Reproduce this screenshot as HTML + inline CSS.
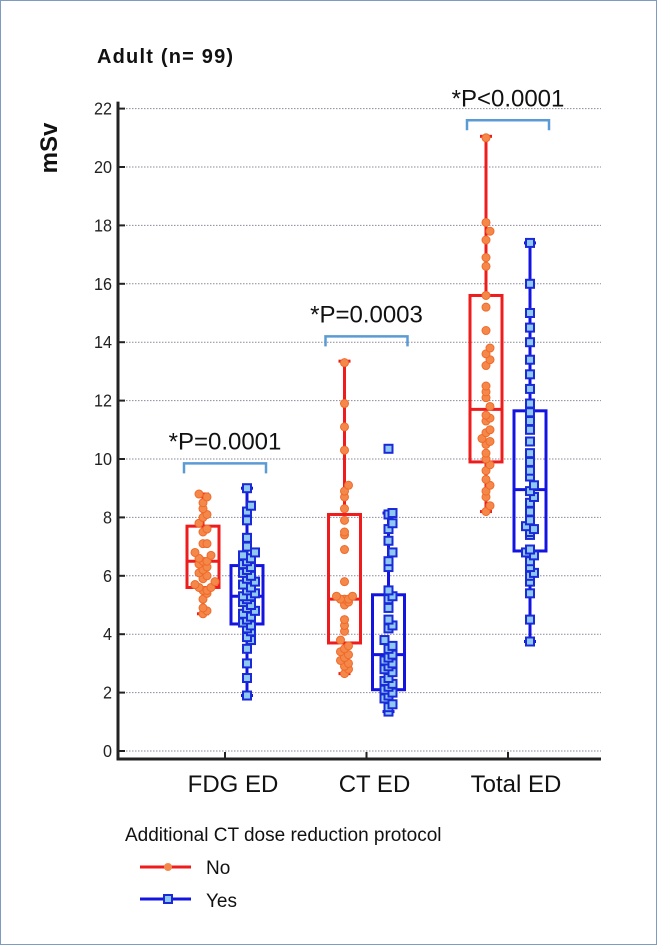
<!DOCTYPE html>
<html><head><meta charset="utf-8"><style>
html,body{margin:0;padding:0;background:#fff}
#wrap{position:relative;width:657px;height:945px;box-sizing:border-box;border:1px solid #7f9bbd;background:#fff}
svg{position:absolute;left:0;top:0}
text{font-family:"Liberation Sans",sans-serif}
</style></head><body>
<div id="wrap">
<svg id="chart" width="657" height="945"></svg>
</div>
<script>
const categories = ["FDG ED","CT ED","Total ED"];
const yTicks = [0,2,4,6,8,10,12,14,16,18,20,22];
// box stats [min, q1, median, q3, max]
const noStats = [[4.7,5.6,6.5,7.7,8.8],[2.65,3.7,5.2,8.1,13.35],[8.2,9.9,11.7,15.6,21.05]];
const yesStats = [[1.9,4.35,5.3,6.35,9.0],[1.35,2.1,3.3,5.35,8.15],[3.75,6.85,8.95,11.65,17.4]];
const yesOutliers = [[],[10.35],[]];
const noPoints = [
 [4.7,4.8,4.9,5.2,5.4,5.5,5.5,5.6,5.6,5.7,5.8,5.9,6.0,6.1,6.2,6.3,6.4,6.5,6.5,6.6,6.7,6.8,7.1,7.1,7.5,7.6,7.8,8.0,8.1,8.3,8.5,8.7,8.8],
 [2.65,2.8,2.9,3.0,3.1,3.2,3.3,3.4,3.5,3.6,3.8,4.1,4.3,4.5,5.0,5.1,5.2,5.2,5.2,5.3,5.3,5.8,6.9,7.4,7.5,7.9,8.3,8.7,8.9,9.1,10.3,11.1,11.9,13.3],
 [8.2,8.4,8.7,8.9,9.1,9.3,9.6,9.8,10.0,10.2,10.5,10.6,10.7,10.9,11.0,11.3,11.4,11.5,11.8,12.1,12.3,12.5,13.2,13.4,13.6,13.8,14.4,15.2,15.6,16.6,16.9,17.5,17.8,18.1,21.0]
];
const yesPoints = [
 [1.9,2.5,3.0,3.5,3.8,3.9,4.1,4.2,4.3,4.4,4.5,4.6,4.7,4.8,4.9,5.0,5.1,5.2,5.3,5.3,5.4,5.5,5.6,5.7,5.8,5.9,6.0,6.1,6.2,6.3,6.4,6.5,6.6,6.7,6.8,7.0,7.3,7.9,8.2,8.4,9.0],
 [1.35,1.5,1.6,1.8,1.9,2.0,2.1,2.2,2.3,2.4,2.5,2.7,2.8,2.9,3.0,3.1,3.2,3.3,3.5,3.6,3.8,4.2,4.3,4.5,4.9,5.2,5.3,5.5,6.3,6.5,6.8,7.2,7.6,7.8,8.1,8.15],
 [3.75,4.5,5.4,5.8,6.0,6.1,6.3,6.5,6.7,6.8,6.9,7.4,7.5,7.6,7.7,7.9,8.2,8.5,8.7,8.9,9.1,9.4,9.6,9.9,10.2,10.6,11.0,11.3,11.6,11.9,12.4,12.9,13.4,14.0,14.5,15.0,16.0,17.4]
];
const pLabels = ["*P=0.0001","*P=0.0003","*P<0.0001"];
const pLevels = [9.85,14.2,21.6];

const NS="http://www.w3.org/2000/svg";
const svg=document.getElementById('chart');
function el(tag,attrs,parent){const e=document.createElementNS(NS,tag);for(const k in attrs)e.setAttribute(k,attrs[k]);(parent||svg).appendChild(e);return e;}
const X0=117,XR=600,YB=750,PPU=29.2;
const y=v=>YB-v*PPU;
const xc=i=>224+i*141.5;
const OFF=22,BW=32;

yTicks.forEach(t=>{
 const g=el('line',{x1:X0+5,x2:XR,y1:y(t),y2:y(t),stroke:'#8a8a9a','stroke-width':1,'stroke-dasharray':'1.5,1.5'});
 
 
 const tk=el('line',{x1:X0,x2:X0+7,y1:y(t),y2:y(t),stroke:'#222','stroke-width':2});
 
 
 const lb=el('text',{x:X0-6,y:y(t)+6,'text-anchor':'end','font-size':18,fill:'#222',transform:`translate(${(X0-6)*0.1},0) scale(0.9,1)`});
 lb.textContent=t;
 
 
});
const ax=el('path',{d:`M${X0},${y(22)-7} L${X0},758 L${XR},758`,fill:'none',stroke:'#222','stroke-width':3});


categories.forEach((c,i)=>{
 const t=el('line',{x1:xc(i),x2:xc(i),y1:751,y2:758,stroke:'#222','stroke-width':2});
 
 
 const l=el('text',{x:xc(i)+8,y:791,'text-anchor':'middle','font-size':24,fill:'#111'});
 l.textContent=c;
 
 
});
const ti=el('text',{x:96,y:62,'font-size':20,'font-weight':'bold',fill:'#111','letter-spacing':'1.2'});
ti.textContent='Adult (n= 99)';


const yt=el('text',{x:0,y:0,'font-size':24,'font-weight':'bold',fill:'#111',transform:'translate(56,147) rotate(-90)','text-anchor':'middle'});
yt.textContent='mSv';



function drawBox(cx,s,col,name){
 const g=el('g',{});
 
 
 el('line',{x1:cx,x2:cx,y1:y(s[0]),y2:y(s[1]),stroke:col,'stroke-width':3},g);
 el('line',{x1:cx,x2:cx,y1:y(s[3]),y2:y(s[4]),stroke:col,'stroke-width':3},g);
 el('line',{x1:cx-6,x2:cx+6,y1:y(s[0]),y2:y(s[0]),stroke:col,'stroke-width':3},g);
 el('line',{x1:cx-6,x2:cx+6,y1:y(s[4]),y2:y(s[4]),stroke:col,'stroke-width':3},g);
 el('rect',{x:cx-BW/2,y:y(s[3]),width:BW,height:y(s[1])-y(s[3]),fill:'none',stroke:col,'stroke-width':3},g);
 el('line',{x1:cx-BW/2,x2:cx+BW/2,y1:y(s[2]),y2:y(s[2]),stroke:col,'stroke-width':3},g);
}
function jitter(arr){const seen={};return arr.map(v=>{const key=Math.round(v*3);seen[key]=(seen[key]||0)+1;const n=seen[key]-1;return n===0?0:(n%2?1:-1)*Math.ceil(n/2)*4;});}
categories.forEach((c,i)=>{
 const cn=xc(i)-OFF, cy=xc(i)+OFF;
 drawBox(cn,noStats[i],'#ee1c1c','box-no-'+i);
 drawBox(cy,yesStats[i],'#1414e0','box-yes-'+i);
 const jn=jitter(noPoints[i]);
 noPoints[i].forEach((v,j)=>{
  const p=el('circle',{cx:cn+jn[j],cy:y(v),r:4,fill:'#f4884a',stroke:'#f06a2a','stroke-width':1});
  
  
 });
 const jy=jitter(yesPoints[i]);
 yesPoints[i].forEach((v,j)=>{
  const p=el('rect',{x:cy+jy[j]-4,y:y(v)-4,width:8,height:8,fill:'#8fc8f0',stroke:'#1a2ad8','stroke-width':2});
  
  
 });
 yesOutliers[i].forEach(v=>{
  const p=el('rect',{x:cy-4,y:y(v)-4,width:8,height:8,fill:'#8fc8f0',stroke:'#1a2ad8','stroke-width':2});
  
  
 });
 const by=y(pLevels[i]);
 const br=el('path',{d:`M${cn-19},${by+10} L${cn-19},${by} L${cy+19},${by} L${cy+19},${by+10}`,fill:'none',stroke:'#5b9bd5','stroke-width':2.5});
 
 
 const pt=el('text',{x:(cn+cy)/2,y:by-14,'text-anchor':'middle','font-size':24,fill:'#111'});
 pt.textContent=pLabels[i];
 
 
});
const lt=el('text',{x:124,y:840,'font-size':19,fill:'#111'});
lt.textContent='Additional CT dose reduction protocol';


const l1=el('g',{});


el('line',{x1:139,x2:190,y1:866,y2:866,stroke:'#ee1c1c','stroke-width':3},l1);
el('circle',{cx:167,cy:866,r:4,fill:'#f4884a'},l1);
const t1=el('text',{x:205,y:873,'font-size':19,fill:'#111'},l1);t1.textContent='No';
const l2=el('g',{});


el('line',{x1:139,x2:190,y1:898,y2:898,stroke:'#1414e0','stroke-width':3},l2);
el('rect',{x:163,y:894,width:8,height:8,fill:'#8fc8f0',stroke:'#1a2ad8','stroke-width':2},l2);
const t2=el('text',{x:205,y:906,'font-size':19,fill:'#111'},l2);t2.textContent='Yes';
</script>
</body></html>
